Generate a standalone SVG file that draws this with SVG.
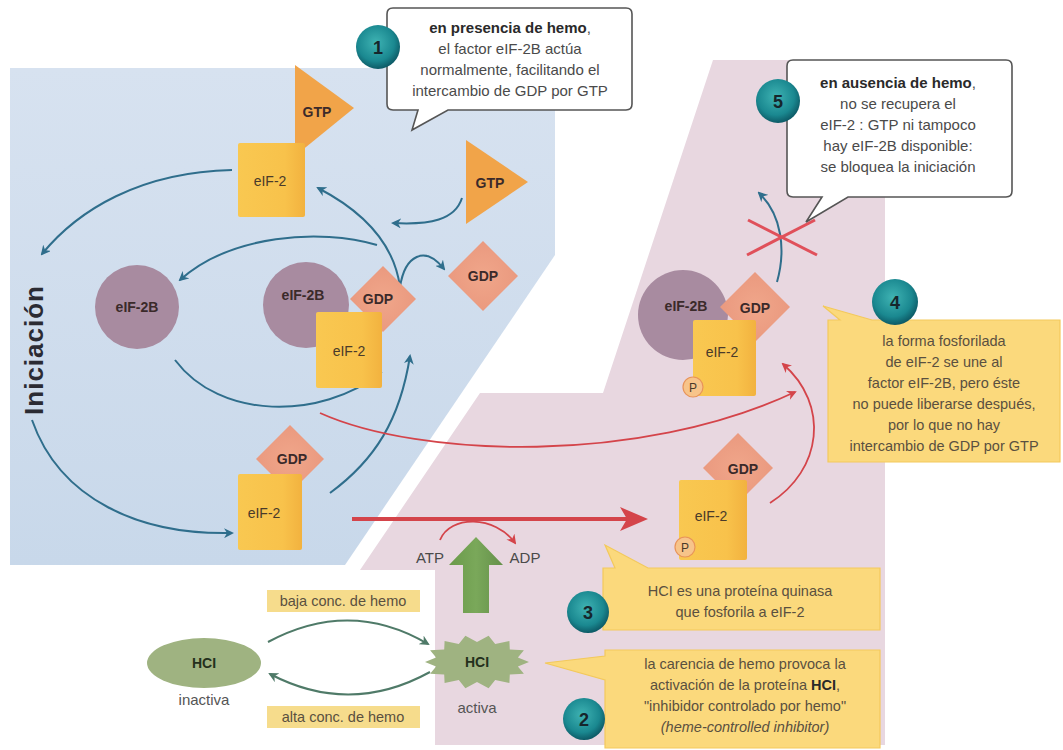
<svg xmlns="http://www.w3.org/2000/svg" width="1063" height="750" viewBox="0 0 1063 750">
<defs>
<style>
.t{font-family:"Liberation Sans",Arial,sans-serif;fill:#4a4a4a;text-anchor:middle}
.cw{font-size:15px}
.cy{font-size:14.5px;fill:#5a5040}
.lb{font-family:"Liberation Sans",Arial,sans-serif;font-weight:bold;font-size:14px;fill:#3b2a2a;text-anchor:middle}
.lr{font-family:"Liberation Sans",Arial,sans-serif;font-size:14px;fill:#4a3a2a;text-anchor:middle}
.num{font-family:"Liberation Sans",Arial,sans-serif;font-weight:bold;font-size:18px;fill:#16262c;text-anchor:middle}
.ba{fill:none;stroke:#2f6e8c;stroke-width:2;marker-end:url(#mb)}
.ra{fill:none;stroke:#d4444a;stroke-width:1.8;marker-end:url(#mr)}
.ga{fill:none;stroke:#4f7a68;stroke-width:2;marker-end:url(#mg)}
.e2{fill:url(#gy)}
.gdp{fill:url(#gd)}
.gtp{fill:#f1a449}
.e2b{fill:#a88ba0}
.callw{fill:#ffffff;stroke:#555555;stroke-width:1.6}
.cally{fill:#fbd97c;stroke:#f3c95c;stroke-width:1.2}
</style>
<linearGradient id="gblue" x1="0" y1="0" x2="0" y2="1">
<stop offset="0" stop-color="#d7e2f0"/><stop offset="1" stop-color="#c8d8ea"/>
</linearGradient>
<linearGradient id="gy" x1="0" y1="0" x2="1" y2="0">
<stop offset="0" stop-color="#f9c851"/><stop offset="0.7" stop-color="#f8c24b"/><stop offset="1" stop-color="#f2b23f"/>
</linearGradient>
<radialGradient id="gd" cx="0.5" cy="0.5" r="0.6">
<stop offset="0" stop-color="#f0a68a"/><stop offset="1" stop-color="#e9977d"/>
</radialGradient>
<radialGradient id="gt" cx="0.45" cy="0.4" r="0.6">
<stop offset="0" stop-color="#3fb3b3"/><stop offset="0.7" stop-color="#1a8890"/><stop offset="1" stop-color="#0d5a66"/>
</radialGradient>
<linearGradient id="ggreen" x1="0" y1="0" x2="1" y2="0">
<stop offset="0" stop-color="#6a9a4a"/><stop offset="0.5" stop-color="#7aa85a"/><stop offset="1" stop-color="#64904a"/>
</linearGradient>
<marker id="mb" viewBox="0 0 10 10" refX="8" refY="5" markerWidth="5" markerHeight="5" orient="auto"><path d="M0,0 L10,5 L0,10 L3,5 Z" fill="#2f6e8c"/></marker>
<marker id="mr" viewBox="0 0 10 10" refX="8" refY="5" markerWidth="5.5" markerHeight="5.5" orient="auto"><path d="M0,0 L10,5 L0,10 L3,5 Z" fill="#d4444a"/></marker>
<marker id="mg" viewBox="0 0 10 10" refX="8" refY="5" markerWidth="5" markerHeight="5" orient="auto"><path d="M0,0 L10,5 L0,10 L3,5 Z" fill="#4f7a68"/></marker>
</defs>
<rect width="1063" height="750" fill="#ffffff"/>
<g id="backgrounds">
<polygon points="10,68 555,68 555,255 345,565 10,565" fill="url(#gblue)"/>
<polygon points="713,60 885,60 885,745 435,745 435,570 360,570 480,393 603,393" fill="#e8d7e0"/>
</g>
<g id="connectors">
<path class="ba" d="M232 170 C140 172 78 210 42 254"/>
<path class="ba" d="M32 420 C60 500 140 535 232 533"/>
<path class="ba" d="M330 493 C375 460 400 420 410 356"/>
<path class="ba" d="M175 360 C220 420 320 420 381 373"/>
<path class="ba" d="M400 287 C395 250 370 215 318 188"/>
<path class="ba" d="M377 245 C320 228 230 235 180 280"/>
<path class="ba" d="M400 287 C405 255 425 245 444 269"/>
<path class="ba" d="M462 198 C455 220 430 225 393 223"/>
<path class="ba" d="M777 282 C786 250 782 215 759 193"/>
<path class="ra" d="M320 413 C420 458 640 465 795 392"/>
<path class="ra" d="M770 503 C822 470 830 405 783 364"/>
<path class="ra" d="M440 540 C450 515 495 515 515 543"/>
<line x1="352" y1="519" x2="628" y2="519" stroke="#d4444a" stroke-width="4"/>
<polygon points="648,519 620,507 627,519 620,531" fill="#d4444a"/>
<path class="ga" d="M268 642 Q350 598 428 644"/>
<path class="ga" d="M430 672 Q350 716 270 674"/>
<g stroke="#e0505a" stroke-width="3">
<line x1="748" y1="220" x2="817" y2="255"/>
<line x1="747" y1="255" x2="815" y2="220"/>
</g>
</g>
<g id="gtp-top">
<polygon class="gtp" points="295,65 295,156 354,108"/>
<text class="lb" x="317" y="117">GTP</text>
</g>
<g id="eif2-top">
<rect class="e2" x="238" y="143" width="67" height="74" rx="2"/>
<text class="lr" x="270" y="186">eIF-2</text>
</g>
<g id="gtp-free">
<polygon class="gtp" points="466,140 466,224 528,182"/>
<text class="lb" x="490" y="188">GTP</text>
</g>
<g id="gdp-free">
<polygon class="gdp" points="483,241 518,276 483,311 448,276"/>
<text class="lb" x="483" y="281">GDP</text>
</g>
<g id="eif2b-left">
<circle class="e2b" cx="137" cy="307" r="42"/>
<text class="lb" x="137" y="312">eIF-2B</text>
</g>
<g id="complex-mid">
<circle class="e2b" cx="306" cy="305" r="43"/>
<polygon class="gdp" points="383,266 416,299 383,332 350,299"/>
<rect class="e2" x="316" y="312" width="66" height="76" rx="2"/>
<text class="lb" x="303" y="300">eIF-2B</text>
<text class="lb" x="378" y="304">GDP</text>
<text class="lr" x="349" y="356">eIF-2</text>
</g>
<g id="eif2-bottom">
<polygon class="gdp" points="290,425 324,459 290,493 256,459"/>
<rect class="e2" x="238" y="474" width="64" height="76" rx="2"/>
<text class="lb" x="292" y="464">GDP</text>
<text class="lr" x="264" y="518">eIF-2</text>
</g>
<g id="iniciacion">
<text transform="translate(43,350) rotate(-90)" style="font-family:'Liberation Sans',Arial,sans-serif;font-weight:bold;font-size:26px;fill:#2b2b33;text-anchor:middle;letter-spacing:1px">Iniciación</text>
</g>
<g id="complex-p">
<circle class="e2b" cx="683" cy="315" r="45"/>
<polygon class="gdp" points="755,272 790,307 755,342 720,307"/>
<rect class="e2" x="693" y="320" width="63" height="76" rx="2"/>
<circle cx="693" cy="387" r="10" fill="#f7c48a" stroke="#e8945a" stroke-width="1.2"/>
<text class="lb" x="686" y="311">eIF-2B</text>
<text class="lb" x="755" y="313">GDP</text>
<text class="lr" x="722" y="357">eIF-2</text>
<text class="lr" x="693" y="392" style="font-size:12px">P</text>
</g>
<g id="eif2-p">
<polygon class="gdp" points="738,433 773,468 738,503 703,468"/>
<rect class="e2" x="679" y="480" width="68" height="80" rx="2"/>
<circle cx="685" cy="547" r="10" fill="#f7c48a" stroke="#e8945a" stroke-width="1.2"/>
<text class="lb" x="743" y="474">GDP</text>
<text class="lr" x="711" y="521">eIF-2</text>
<text class="lr" x="685" y="552" style="font-size:12px">P</text>
</g>
<g id="hci-inactive">
<ellipse cx="204" cy="663" rx="57" ry="25" fill="#9fb381"/>
<text class="lb" x="204" y="668" style="fill:#24301c">HCI</text>
<text class="t" x="204" y="705" style="font-size:15px;fill:#555">inactiva</text>
</g>
<g id="hci-active">
<polygon fill="#9fb381" points="529,662 517.9,666.5 523.9,673.7 509.8,674.5 509.4,683.1 495.2,680 488.6,688.3 477,682 465.4,688.3 458.8,680 444.6,683.1 444.2,674.5 430.1,673.7 436.1,666.5 425,662 436.1,657.5 430.1,650.3 444.2,649.5 444.6,640.9 458.8,644 465.4,635.7 477,642 488.6,635.7 495.2,644 509.4,640.9 509.8,649.5 523.9,650.3 517.9,657.5"/>
<text class="lb" x="477" y="667" style="fill:#24301c">HCI</text>
<text class="t" x="477" y="713" style="font-size:15px;fill:#555">activa</text>
</g>
<g id="green-arrow">
<polygon fill="url(#ggreen)" points="476,537 503,565 489,565 489,613 463,613 463,565 449,565"/>
</g>
<g id="atp-adp">
<text class="t" x="430" y="563" style="font-size:15px">ATP</text>
<text class="t" x="525" y="563" style="font-size:15px">ADP</text>
</g>
<g id="label-baja">
<rect x="267" y="590" width="153" height="22" fill="#f6dc8c"/>
<text class="t" x="343" y="606" style="font-size:14.5px;fill:#5a5040">baja conc. de hemo</text>
</g>
<g id="label-alta">
<rect x="267" y="706" width="153" height="22" fill="#f6dc8c"/>
<text class="t" x="343" y="722" style="font-size:14.5px;fill:#5a5040">alta conc. de hemo</text>
</g>
<g id="callout-1">
<path class="callw" d="M393 8 H626 Q632 8 632 14 V104 Q632 110 626 110 H448 L412 130 L418 110 H393 Q387 110 387 104 V14 Q387 8 393 8 Z"/>
<text class="t cw" x="510" y="33"><tspan font-weight="bold" fill="#2a2a2a">en presencia de hemo</tspan>,</text>
<text class="t cw" x="510" y="54">el factor eIF-2B actúa</text>
<text class="t cw" x="510" y="75">normalmente, facilitando el</text>
<text class="t cw" x="510" y="96">intercambio de GDP por GTP</text>
<circle cx="378" cy="47" r="22" fill="url(#gt)"/>
<text class="num" x="378" y="54">1</text>
</g>
<g id="callout-5">
<path class="callw" d="M793 60 H1006 Q1012 60 1012 66 V191 Q1012 197 1006 197 H848 L806 222 L822 197 H793 Q787 197 787 191 V66 Q787 60 793 60 Z"/>
<text class="t cw" x="898" y="88"><tspan font-weight="bold" fill="#2a2a2a">en ausencia de hemo</tspan>,</text>
<text class="t cw" x="898" y="109">no se recupera el</text>
<text class="t cw" x="898" y="130">eIF-2 : GTP ni tampoco</text>
<text class="t cw" x="898" y="151">hay eIF-2B disponible:</text>
<text class="t cw" x="898" y="172">se bloquea la iniciación</text>
<circle cx="778" cy="101" r="22" fill="url(#gt)"/>
<text class="num" x="778" y="108">5</text>
</g>
<g id="callout-4">
<path class="cally" d="M828 320 H840 L823 306 L872 320 H1060 V462 H828 Z"/>
<text class="t cy" x="944" y="346">la forma fosforilada</text>
<text class="t cy" x="944" y="367">de eIF-2 se une al</text>
<text class="t cy" x="944" y="388">factor eIF-2B, pero éste</text>
<text class="t cy" x="944" y="409">no puede liberarse después,</text>
<text class="t cy" x="944" y="430">por lo que no hay</text>
<text class="t cy" x="944" y="451">intercambio de GDP por GTP</text>
<circle cx="895" cy="302" r="23" fill="url(#gt)"/>
<text class="num" x="895" y="309">4</text>
</g>
<g id="callout-3">
<path class="cally" d="M603 568 H615 L605 545 L648 568 H880 V630 H603 Z"/>
<text class="t cy" x="740" y="596">HCI es una proteína quinasa</text>
<text class="t cy" x="740" y="617">que fosforila a eIF-2</text>
<circle cx="588" cy="612" r="21" fill="url(#gt)"/>
<text class="num" x="588" y="619">3</text>
</g>
<g id="callout-2">
<path class="cally" d="M605 650 H880 V748 H605 V680 L545 663 L605 656 Z"/>
<text class="t cy" x="745" y="669">la carencia de hemo provoca la</text>
<text class="t cy" x="745" y="690">activación de la proteína <tspan font-weight="bold" fill="#2a2a2a">HCI</tspan>,</text>
<text class="t cy" x="745" y="711">"inhibidor controlado por hemo"</text>
<text class="t cy" x="745" y="732" font-style="italic">(heme-controlled inhibitor)</text>
<circle cx="584" cy="719" r="21" fill="url(#gt)"/>
<text class="num" x="584" y="726">2</text>
</g>
</svg>
